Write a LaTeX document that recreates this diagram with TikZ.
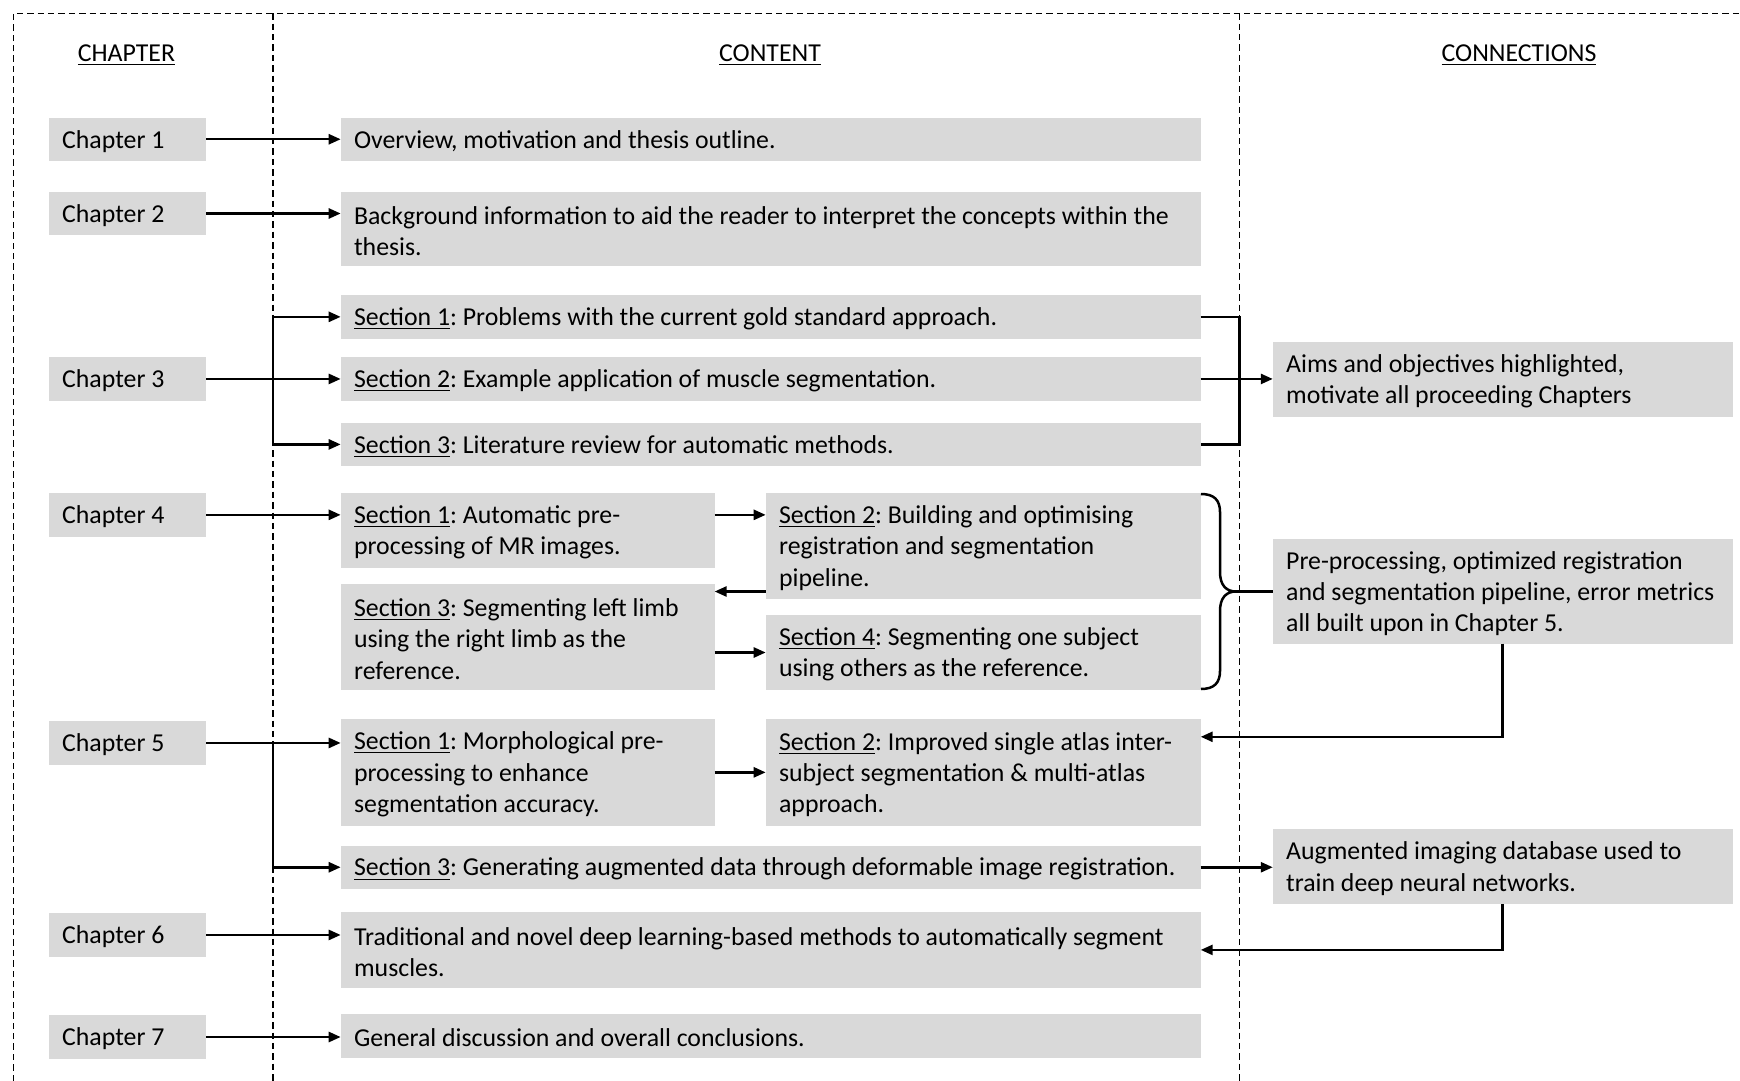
\documentclass[tikz,border=0pt]{standalone}
\usepackage{fontspec}
\setmainfont{Carlito}
\usetikzlibrary{arrows.meta}
\definecolor{boxgray}{HTML}{D9D9D9}
\newcommand\mkbox[6]{%
  \pgfmathsetmacro\bxw{(#4-#2)*0.5}%
  \pgfmathsetmacro\bxh{(#5-#3)*0.5}%
  \node[gbx, minimum width=\bxw pt, minimum height=\bxh pt] (#1) at ({(#2+#4)/2},{(#3+#5)/2}) {};
  \node[txt] (#1-t) at ([xshift=6.5pt,yshift=-1pt]#1.west) {#6};}
\newcommand\ul[1]{\underline{#1}}
\begin{document}
\frenchspacing
\begin{tikzpicture}[x=0.5pt,y=-0.5pt,
  gbx/.style={rectangle, fill=boxgray, inner sep=0pt, outer sep=0pt},
  txt/.style={anchor=west, align=left, inner sep=0pt},
  arr/.style={line width=1.25pt, -{Triangle[length=6pt,width=5pt]}},
  ln/.style={line width=1.25pt},
  dsh/.style={line width=0.6pt, dash pattern=on 3.2pt off 2pt},
  hdr/.style={inner sep=0pt},
  font=\fontsize{12.9}{15.6}\selectfont]
\useasboundingbox (0,0) rectangle (1740,1081);
% frame and column separators
\draw[dsh] (13.3,1081) -- (13.3,13.3) -- (1740,13.3);
\draw[dsh] (273,13.3) -- (273,1081);
\draw[dsh] (1239.5,13.3) -- (1239.5,1081);
% headers
\node[hdr] (hC) at (126.5,55) {\ul{CHAPTER}};
\node[hdr] (hT) at (770,55) {\ul{CONTENT}};
\node[hdr] (hN) at (1519,55) {\ul{CONNECTIONS}};
% chapters
\mkbox{ch1}{48.8}{117.6}{206.4}{160.9}{Chapter 1}
\mkbox{ch2}{48.8}{192}{206.4}{235}{Chapter 2}
\mkbox{ch3}{48.8}{357.3}{206.4}{400.6}{Chapter 3}
\mkbox{ch4}{48.8}{492.7}{206.4}{537}{Chapter 4}
\mkbox{ch5}{48.8}{721.3}{206.4}{764.6}{Chapter 5}
\mkbox{ch6}{48.8}{913.3}{206.4}{956.6}{Chapter 6}
\mkbox{ch7}{48.8}{1015.4}{206.4}{1058.6}{Chapter 7}
% content
\mkbox{c1}{340.7}{117.6}{1200.7}{160.9}{Overview, motivation and thesis outline.}
\mkbox{c2}{340.7}{192}{1200.7}{266.3}{Background information to aid the reader to interpret the concepts within the\\thesis.}
\mkbox{s31}{340.7}{295.2}{1200.7}{338.5}{\ul{Section 1}: Problems with the current gold standard approach.}
\mkbox{s32}{340.7}{357.3}{1200.7}{400.6}{\ul{Section 2}: Example application of muscle segmentation.}
\mkbox{s33}{340.7}{422.8}{1200.7}{466}{\ul{Section 3}: Literature review for automatic methods.}
\mkbox{s41}{340.7}{492.7}{714.6}{568.2}{\ul{Section 1}: Automatic pre-\\processing of MR images.}
\mkbox{s42}{765.7}{492.7}{1200.7}{599.2}{\ul{Section 2}: Building and optimising\\registration and segmentation\\pipeline.}
\mkbox{s43}{340.7}{583.7}{714.6}{690.2}{\ul{Section 3}: Segmenting left limb\\using the right limb as the\\reference.}
\mkbox{s44}{765.7}{614.8}{1200.7}{690.2}{\ul{Section 4}: Segmenting one subject\\using others as the reference.}
\mkbox{s51}{340.7}{719.1}{714.6}{825.6}{\ul{Section 1}: Morphological pre-\\processing to enhance\\segmentation accuracy.}
\mkbox{s52}{765.7}{719.1}{1200.7}{825.6}{\ul{Section 2}: Improved single atlas inter-\\subject segmentation \& multi-atlas\\approach.}
\mkbox{s53}{340.7}{845.6}{1200.7}{888.9}{\ul{Section 3}: Generating augmented data through deformable image registration.}
\mkbox{c6}{340.7}{912.2}{1200.7}{987.6}{Traditional and novel deep learning-based methods to automatically segment\\muscles.}
\mkbox{c7}{340.7}{1014.3}{1200.7}{1057.5}{General discussion and overall conclusions.}
% connections
\mkbox{ra}{1272.8}{341.8}{1733.3}{417.2}{Aims and objectives highlighted,\\motivate all proceeding Chapters}
\mkbox{rp}{1272.8}{539.3}{1733.3}{643.6}{Pre-processing, optimized registration\\and segmentation pipeline, error metrics\\all built upon in Chapter 5.}
\mkbox{rg}{1272.8}{829}{1733.3}{904.4}{Augmented imaging database used to\\train deep neural networks.}
% helper coordinates
\coordinate (v1) at (273,0);
\coordinate (v2) at (1239.5,0);
\coordinate (m4) at (0,591.5);
\coordinate (pc) at (1502.5,736.8);
\coordinate (btip) at (1236,591.5);
% arrows
\draw[arr] (ch1.east) -- (ch1.east -| c1.west);
\draw[arr] (ch2.east) -- (ch2.east -| c2.west);
\draw[arr] (ch3.east) -- (ch3.east -| s32.west);
\draw[arr] (v1 |- s32) |- (s31.west);
\draw[arr] (v1 |- s32) |- (s33.west);
\draw[ln] (s31.east) -| (v2 |- s33) -- (s33.east);
\draw[arr] (s32.east) -- (s32.east -| ra.west);
\draw[arr] (ch4.east) -- (ch4.east -| s41.west);
\draw[arr] (s41.east |- ch4) -- (s42.west |- ch4);
\draw[arr] (s42.west |- m4) -- (s43.east |- m4);
\draw[arr] (s43.east |- s44) -- (s44.west);
\draw[ln] (1201,494) .. controls (1214,494) and (1220,500) .. (1220,512) -- (1220,572)
  .. controls (1220,585) and (1226,591.5) .. (btip)
  .. controls (1226,591.5) and (1220,598) .. (1220,611) -- (1220,671)
  .. controls (1220,683) and (1214,689) .. (1201,689);
\draw[ln] (btip) -- (btip -| rp.west);
\draw[arr] (ch5.east) -- (ch5.east -| s51.west);
\draw[arr] (v1 |- ch5) |- (s53.west);
\draw[arr] (s51.east) -- (s52.west);
\draw[arr] (rp.south -| pc) |- (s52.east |- pc);
\draw[arr] (s53.east) -- (s53.east -| rg.west);
\draw[arr] (rg.south -| pc) |- (c6.east);
\draw[arr] (ch6.east) -- (ch6.east -| c6.west);
\draw[arr] (ch7.east) -- (ch7.east -| c7.west);
\end{tikzpicture}
\end{document}
